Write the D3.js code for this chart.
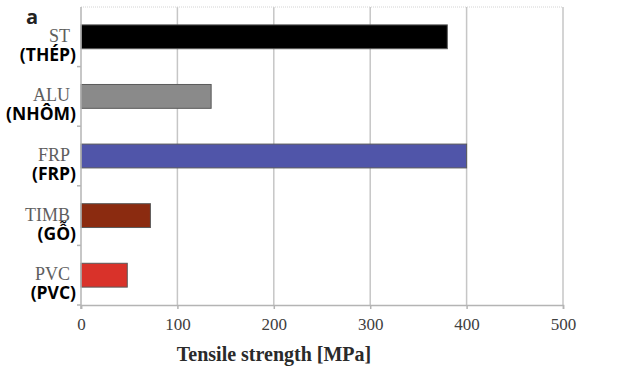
<!DOCTYPE html>
<html>
<head>
<meta charset="utf-8">
<script src="https://cdn.jsdelivr.net/npm/d3@7"></script>
<style>
  body { margin: 0; background: #fff; }
</style>
</head>
<body>
<script>
// data
var materials = ['ST', 'ALU', 'FRP', 'TIMB', 'PVC'];
var vietLabels = ['(THÉP)', '(NHÔM)', '(FRP)', '(GỖ)', '(PVC)'];
var strength = [380, 135, 400, 72, 48];
var barColors = ['#000000', '#8a8a8a', '#5055a9', '#8b2b10', '#d9322a'];
var xTicks = [0, 100, 200, 300, 400, 500];

var width = 624, height = 380;
var plotLeft = 81, plotRight = 563, plotTop = 7, plotBottom = 305;

var svg = d3.select('body')
    .append('svg')
    .attr('width', width)
    .attr('height', height);

// scales
var xscale = d3.scaleLinear().domain([0, 500]).range([plotLeft, plotRight]);
var yscale = d3.scaleBand()
    .domain(materials)
    .range([plotTop, plotBottom])
    .paddingInner(0.6)
    .paddingOuter(0.3);

// vertical grid lines
svg.selectAll('line.grid')
    .data(xTicks.slice(1))
    .enter().append('line')
    .attr('class', 'grid')
    .attr('x1', function (d) { return xscale(d); })
    .attr('x2', function (d) { return xscale(d); })
    .attr('y1', plotTop)
    .attr('y2', plotBottom)
    .attr('stroke', '#c6c6c6')
    .attr('stroke-width', 1.5);

// top border
svg.append('line')
    .attr('x1', plotLeft).attr('x2', plotRight)
    .attr('y1', plotTop).attr('y2', plotTop)
    .attr('stroke', '#d4d4d4')
    .attr('stroke-width', 1)
    .attr('stroke-dasharray', '1,1');

// bars
svg.selectAll('rect.bar')
    .data(materials)
    .enter().append('rect')
    .attr('class', 'bar')
    .attr('x', xscale(0))
    .attr('y', function (d) { return yscale(d); })
    .attr('width', function (d, i) { return xscale(strength[i]) - xscale(0); })
    .attr('height', yscale.bandwidth())
    .attr('fill', function (d, i) { return barColors[i]; })
    .attr('stroke', '#5a5a5a')
    .attr('stroke-width', 1);

// x axis
var xaxis = d3.axisBottom(xscale)
    .tickValues(xTicks)
    .tickSize(4)
    .tickPadding(9);

var gx = svg.append('g')
    .attr('transform', 'translate(0,' + plotBottom + ')')
    .call(xaxis);
gx.select('.domain').attr('stroke', '#b4b4b4').attr('stroke-width', 1.5);
gx.selectAll('.tick line').attr('stroke', '#b4b4b4').attr('stroke-width', 1.5);
gx.selectAll('.tick text')
    .attr('font-family', '"Liberation Serif", serif')
    .attr('font-size', '17px')
    .attr('fill', '#404040');

// y axis line with small ticks between categories
svg.append('line')
    .attr('x1', plotLeft).attr('x2', plotLeft)
    .attr('y1', plotTop).attr('y2', plotBottom + 4)
    .attr('stroke', '#b4b4b4')
    .attr('stroke-width', 1.5);

svg.selectAll('line.ytick')
    .data(materials)
    .enter().append('line')
    .attr('class', 'ytick')
    .attr('x1', plotLeft - 4).attr('x2', plotLeft)
    .attr('y1', function (d) { return yscale(d) + yscale.bandwidth() / 2 + yscale.step() / 2; })
    .attr('y2', function (d) { return yscale(d) + yscale.bandwidth() / 2 + yscale.step() / 2; })
    .attr('stroke', '#b4b4b4')
    .attr('stroke-width', 1.5);

// category labels (english, serif grey)
svg.selectAll('text.cat')
    .data(materials)
    .enter().append('text')
    .attr('class', 'cat')
    .attr('x', 70)
    .attr('y', function (d) { return yscale(d) + yscale.bandwidth() / 2 + 5; })
    .attr('text-anchor', 'end')
    .attr('font-family', '"Liberation Serif", serif')
    .attr('font-size', '18px')
    .attr('fill', '#5e5e5e')
    .text(function (d) { return d; });

// vietnamese labels (bold sans)
svg.selectAll('text.viet')
    .data(vietLabels)
    .enter().append('text')
    .attr('class', 'viet')
    .attr('x', 76)
    .attr('y', function (d, i) { return yscale(materials[i]) + yscale.bandwidth() / 2 + 24; })
    .attr('text-anchor', 'end')
    .attr('font-family', '"Open Sans", sans-serif')
    .attr('font-weight', 'bold')
    .attr('font-size', '17.5px')
    .attr('fill', '#000')
    .text(function (d) { return d; });

// panel letter
svg.append('text')
    .attr('x', 26)
    .attr('y', 24)
    .attr('font-family', '"Open Sans", sans-serif')
    .attr('font-weight', 'bold')
    .attr('font-size', '20px')
    .attr('fill', '#222')
    .text('a');

// axis title
svg.append('text')
    .attr('x', 274)
    .attr('y', 361)
    .attr('text-anchor', 'middle')
    .attr('font-family', '"Liberation Serif", serif')
    .attr('font-weight', 'bold')
    .attr('font-size', '20px')
    .attr('fill', '#2a2a2a')
    .text('Tensile strength [MPa]');
</script>
</body>
</html>
